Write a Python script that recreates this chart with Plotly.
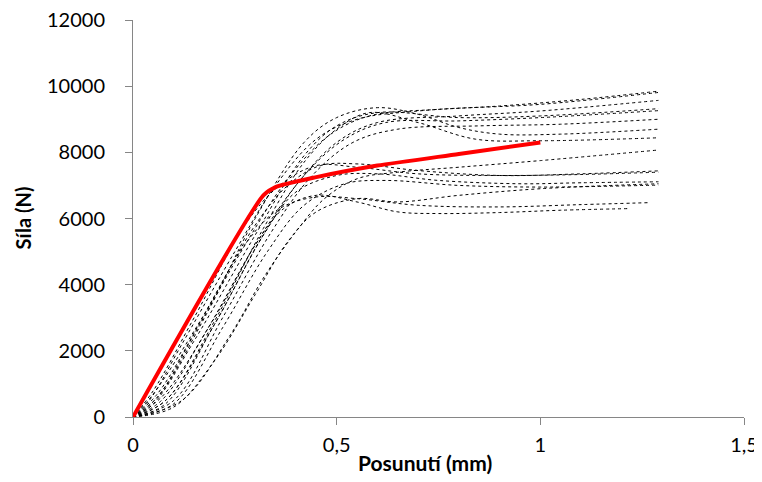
import plotly.graph_objects as go

# ---- data ----
curves = {
    "A": ([0, 0.04, 0.12, 0.25, 0.35, 0.45, 0.55, 0.7, 0.9, 1.1, 1.29],
          [0, 500, 2200, 5000, 7000, 8400, 9000, 9250, 9400, 9600, 9850]),
    "B": ([0, 0.06, 0.15, 0.28, 0.38, 0.48, 0.58, 0.75, 1.0, 1.29],
          [0, 600, 2500, 5300, 7200, 8500, 9100, 9300, 9450, 9810]),
    "C": ([0, 0.07, 0.18, 0.3, 0.4, 0.5, 0.6, 0.8, 1.0, 1.29],
          [0, 500, 2600, 5200, 7000, 8300, 8900, 9100, 9250, 9570]),
    "D": ([0, 0.05, 0.15, 0.3, 0.42, 0.5, 0.6, 0.8, 1.0, 1.29],
          [0, 400, 2300, 5500, 7900, 8800, 9200, 9050, 9100, 9320]),
    "E": ([0, 0.08, 0.2, 0.32, 0.42, 0.52, 0.62, 0.8, 1.0, 1.29],
          [0, 400, 2800, 5500, 7300, 8400, 8900, 8950, 9050, 9260]),
    "F": ([0, 0.1, 0.22, 0.34, 0.44, 0.54, 0.65, 0.85, 1.05, 1.29],
          [0, 500, 3000, 5600, 7300, 8300, 8700, 8800, 8850, 9000]),
    "G": ([0, 0.06, 0.18, 0.3, 0.42, 0.5, 0.6, 0.7, 0.8, 0.9, 1.05, 1.29],
          [0, 600, 3100, 6000, 8300, 9050, 9350, 9150, 8750, 8550, 8550, 8700]),
    "H": ([0, 0.08, 0.2, 0.32, 0.42, 0.5, 0.58, 0.7, 0.84, 1.0, 1.29],
          [0, 500, 2900, 5700, 7700, 8700, 9200, 8900, 8400, 8350, 8440]),
    "I": ([0, 0.12, 0.24, 0.32, 0.4, 0.47, 0.55, 0.65, 0.8, 1.0, 1.29],
          [0, 500, 2500, 4200, 5600, 6600, 7200, 7400, 7550, 7750, 8070]),
    "J": ([0, 0.06, 0.18, 0.3, 0.38, 0.46, 0.55, 0.7, 0.9, 1.1, 1.29],
          [0, 700, 3200, 5800, 7000, 7600, 7650, 7450, 7300, 7350, 7440]),
    "K": ([0, 0.05, 0.15, 0.28, 0.36, 0.45, 0.55, 0.7, 0.9, 1.1, 1.29],
          [0, 800, 3000, 5900, 7000, 7600, 7550, 7350, 7300, 7330, 7400]),
    "L": ([0, 0.08, 0.2, 0.32, 0.4, 0.5, 0.6, 0.75, 0.95, 1.1, 1.29],
          [0, 500, 2800, 5500, 6800, 7300, 7350, 7150, 7050, 7080, 7110]),
    "M": ([0, 0.1, 0.22, 0.33, 0.42, 0.52, 0.62, 0.8, 1.0, 1.29],
          [0, 400, 2700, 5000, 6400, 7050, 7150, 7000, 6950, 7010]),
    "N": ([0, 0.05, 0.16, 0.28, 0.36, 0.45, 0.55, 0.7, 0.9, 1.1, 1.27],
          [0, 700, 2800, 5300, 6300, 6650, 6600, 6400, 6350, 6420, 6480]),
    "O": ([0, 0.07, 0.2, 0.3, 0.37, 0.45, 0.55, 0.65, 0.75, 0.9, 1.05, 1.22],
          [0, 600, 3000, 5200, 6300, 6700, 6500, 6200, 6150, 6180, 6250, 6300]),
    "P": ([0, 0.1, 0.2, 0.3, 0.38, 0.45, 0.55, 0.65, 0.8, 1.0, 1.29],
          [0, 300, 1700, 3700, 5300, 6200, 6600, 6500, 6700, 6900, 7050]),
}
red_x = [0, 0.32, 0.35, 0.45, 0.6, 0.8, 1.0]
red_y = [0, 6700, 6950, 7250, 7600, 7950, 8300]

x_ticks = [0, 0.5, 1, 1.5]
x_ticktext = ["0", "0,5", "1", "1,5"]
y_ticks = [0, 2000, 4000, 6000, 8000, 10000, 12000]
y_ticktext = ["0", "2000", "4000", "6000", "8000", "10000", "12000"]

fig = go.Figure()
for name, (xs, ys) in curves.items():
    fig.add_trace(go.Scatter(x=xs, y=ys, mode="lines", name=name,
                             line=dict(color="black", width=1, dash="dot",
                                       shape="spline", smoothing=1.0)))
fig.add_trace(go.Scatter(x=red_x, y=red_y, mode="lines", name="model",
                         line=dict(color="#FF0000", width=4, shape="spline",
                                   smoothing=0.6)))

axis_common = dict(showgrid=False, zeroline=False, showline=True,
                   linecolor="#868686", linewidth=1, ticks="outside",
                   tickcolor="#868686", ticklen=7, automargin=False,
                   ticklabeloverflow="allow",
                   tickfont=dict(family="Lato", size=20, color="black"))
fig.update_layout(
    width=754, height=474,
    margin=dict(l=125, r=18, t=12, b=65),
    paper_bgcolor="white", plot_bgcolor="white",
    showlegend=False,
    xaxis=dict(range=[0, 1.5], tickvals=x_ticks, ticktext=x_ticktext,
               ticklabelstandoff=3, **axis_common),
    yaxis=dict(range=[0, 12000], tickvals=y_ticks, ticktext=y_ticktext,
               ticklabelstandoff=16, **axis_common),
    annotations=[
        dict(text="<b>Posunutí (mm)</b>", xref="paper", yref="paper",
             x=0.478, y=0, yshift=-45, xanchor="center", yanchor="middle",
             showarrow=False,
             font=dict(family="Lato", size=21, color="black")),
        dict(text="<b>Síla (N)</b>", xref="paper", yref="paper",
             x=0, xshift=-111, y=0.5, xanchor="center", yanchor="middle",
             textangle=-90, showarrow=False,
             font=dict(family="Lato", size=20, color="black")),
    ],
)
fig.write_html("out.html")
